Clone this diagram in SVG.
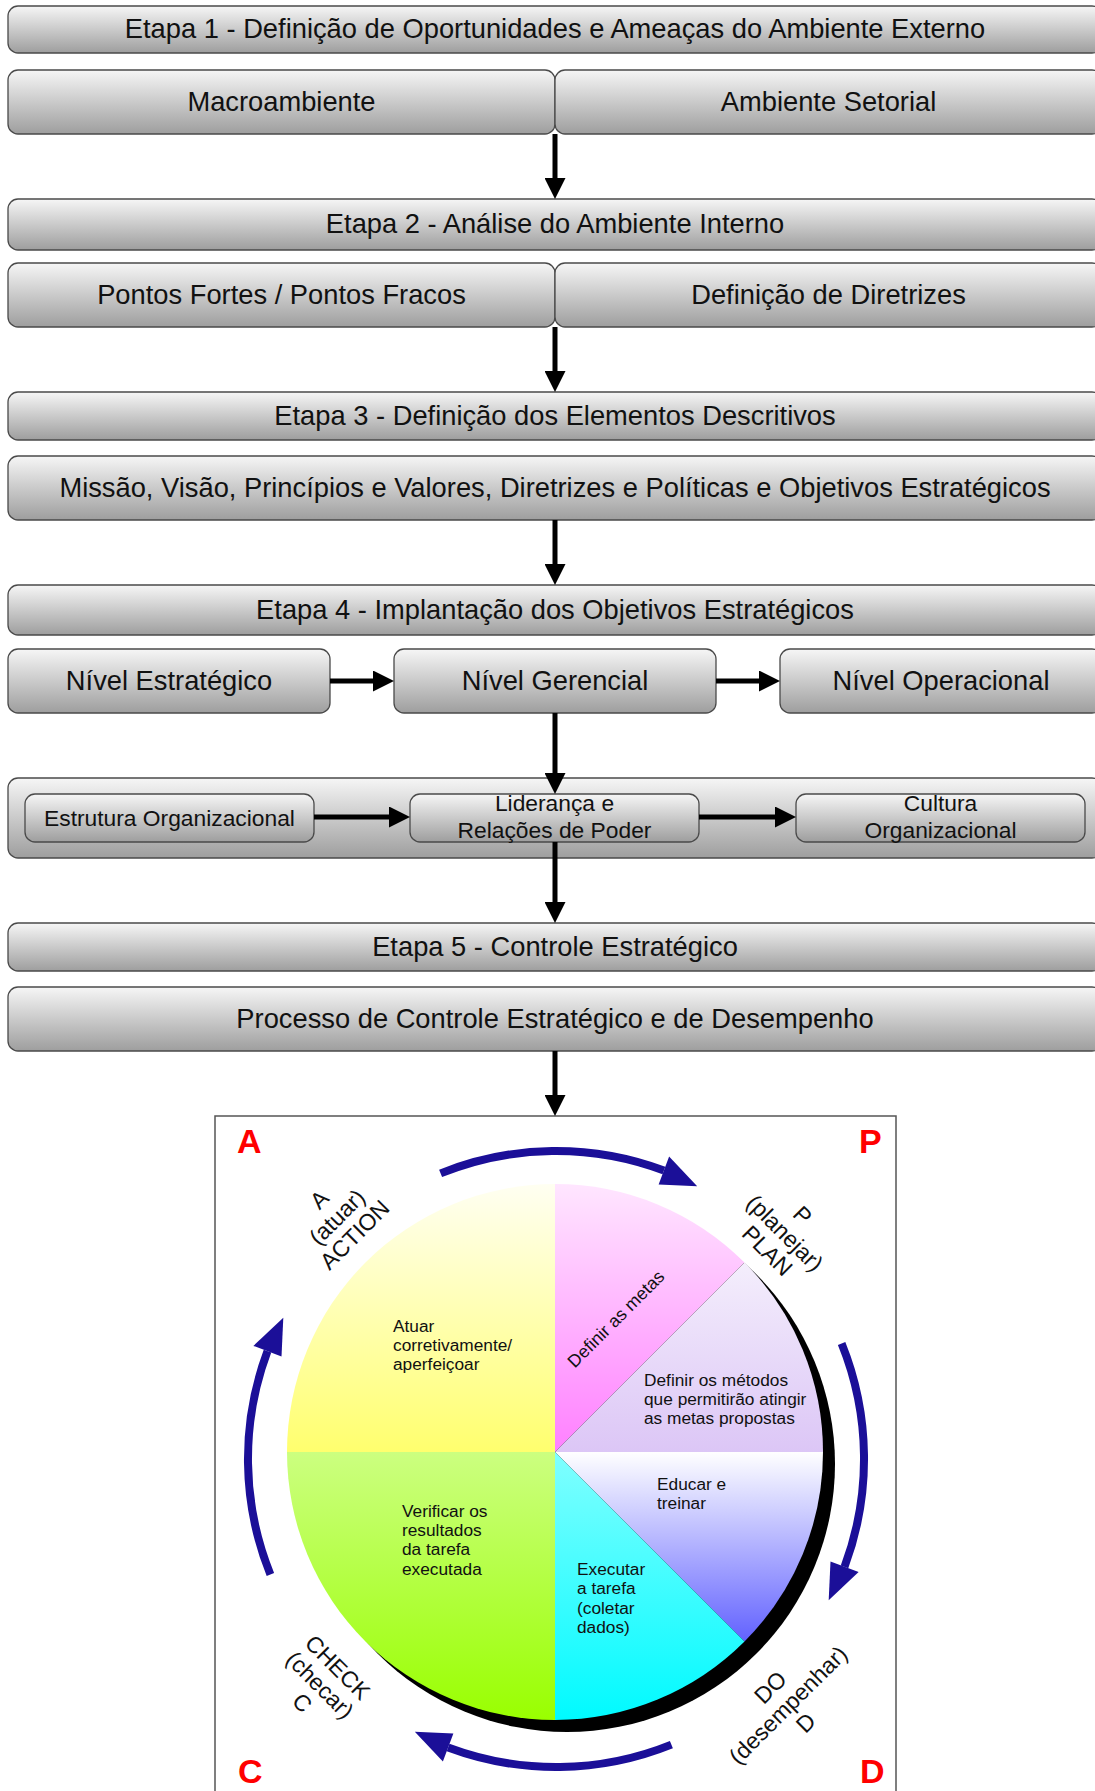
<svg xmlns="http://www.w3.org/2000/svg" width="1095" height="1791" viewBox="0 0 1095 1791">
  <style>
    .box { fill: url(#gBox); stroke: #4a4a4a; stroke-width: 1.3; }
    .t { font-family: "Liberation Sans", Arial, sans-serif; fill: #111; }
    .lg { font-size: 27.3px; text-anchor: middle; }
    .md { font-size: 22.8px; text-anchor: middle; }
    .sm { font-size: 17.3px; }
    .rot { font-size: 23px; text-anchor: middle; }
    .big { font-family: "Liberation Sans", Arial, sans-serif; font-size: 34px; font-weight: bold; fill: #ff0000; }
    .conn { stroke: #000; stroke-width: 5; fill: none; marker-end: url(#ah); }
    .cyc { stroke: #1b0f98; stroke-width: 8; fill: none; }
  </style>
  <defs>
    <linearGradient id="gBox" x1="0" y1="0" x2="0" y2="1">
      <stop offset="0" stop-color="#f6f6f6"/>
      <stop offset="1" stop-color="#9e9e9e"/>
    </linearGradient>
    <linearGradient id="gYellow" x1="0" y1="0" x2="0" y2="1">
      <stop offset="0" stop-color="#fffff2"/>
      <stop offset="1" stop-color="#ffff6e"/>
    </linearGradient>
    <linearGradient id="gPink" x1="0" y1="0" x2="0" y2="1">
      <stop offset="0" stop-color="#ffe6ff"/>
      <stop offset="1" stop-color="#ff80ff"/>
    </linearGradient>
    <linearGradient id="gLav" x1="0" y1="0" x2="0" y2="1">
      <stop offset="0" stop-color="#f4eefc"/>
      <stop offset="1" stop-color="#dcc6f6"/>
    </linearGradient>
    <linearGradient id="gBlue" x1="0" y1="0" x2="0" y2="1">
      <stop offset="0" stop-color="#ffffff"/>
      <stop offset="1" stop-color="#6262ff"/>
    </linearGradient>
    <linearGradient id="gCyan" x1="0" y1="0" x2="0" y2="1">
      <stop offset="0" stop-color="#80ffff"/>
      <stop offset="1" stop-color="#00faff"/>
    </linearGradient>
    <linearGradient id="gGreen" x1="0" y1="0" x2="0" y2="1">
      <stop offset="0" stop-color="#ccff80"/>
      <stop offset="1" stop-color="#99ff00"/>
    </linearGradient>
    <marker id="ah" viewBox="0 0 21 21" refX="9" refY="10.5" markerWidth="21" markerHeight="21" markerUnits="userSpaceOnUse" orient="auto">
      <path d="M0,0 L21,10.5 L0,21 Z" fill="#000"/>
    </marker>
    <!-- one quarter of the PDCA cycle arrow; the others are rotated copies -->
    <g id="cycArrow">
      <path class="cyc" d="M440.6,1173.4 A308,308 0 0 1 663.9,1170.5"/>
      <polygon points="658.6,1184.5 669.1,1156.4 697.2,1186.3" fill="#1b0f98"/>
    </g>
  </defs>

  <rect width="1095" height="1791" fill="#ffffff"/>

  <!-- Etapa 1 -->
  <g id="etapa1">
    <rect class="box" x="8" y="6" width="1094" height="47" rx="10"/>
    <text class="t lg" x="555" y="38">Etapa 1 - Definição de Oportunidades e Ameaças do Ambiente Externo</text>
  </g>
  <g id="macroambiente">
    <rect class="box" x="8" y="70" width="547" height="64" rx="10"/>
    <text class="t lg" x="281.5" y="110.5">Macroambiente</text>
  </g>
  <g id="ambiente-setorial">
    <rect class="box" x="555" y="70" width="547" height="64" rx="10"/>
    <text class="t lg" x="828.5" y="110.5">Ambiente Setorial</text>
  </g>

  <!-- Etapa 2 -->
  <g id="etapa2">
    <rect class="box" x="8" y="199" width="1094" height="51" rx="10"/>
    <text class="t lg" x="555" y="233">Etapa 2 - Análise do Ambiente Interno</text>
  </g>
  <g id="pontos">
    <rect class="box" x="8" y="263" width="547" height="64" rx="10"/>
    <text class="t lg" x="281.5" y="303.5">Pontos Fortes / Pontos Fracos</text>
  </g>
  <g id="diretrizes">
    <rect class="box" x="555" y="263" width="547" height="64" rx="10"/>
    <text class="t lg" x="828.5" y="303.5">Definição de Diretrizes</text>
  </g>

  <!-- Etapa 3 -->
  <g id="etapa3">
    <rect class="box" x="8" y="392" width="1094" height="48" rx="10"/>
    <text class="t lg" x="555" y="424.5">Etapa 3 - Definição dos Elementos Descritivos</text>
  </g>
  <g id="elementos">
    <rect class="box" x="8" y="456" width="1094" height="64" rx="10"/>
    <text class="t lg" x="555" y="496.5">Missão, Visão, Princípios e Valores, Diretrizes e Políticas e Objetivos Estratégicos</text>
  </g>

  <!-- Etapa 4 -->
  <g id="etapa4">
    <rect class="box" x="8" y="585" width="1094" height="50" rx="10"/>
    <text class="t lg" x="555" y="618.5">Etapa 4 - Implantação dos Objetivos Estratégicos</text>
  </g>
  <g id="nivel-estrategico">
    <rect class="box" x="8" y="649" width="322" height="64" rx="10"/>
    <text class="t lg" x="169" y="689.5">Nível Estratégico</text>
  </g>
  <g id="nivel-gerencial">
    <rect class="box" x="394" y="649" width="322" height="64" rx="10"/>
    <text class="t lg" x="555" y="689.5">Nível Gerencial</text>
  </g>
  <g id="nivel-operacional">
    <rect class="box" x="780" y="649" width="322" height="64" rx="10"/>
    <text class="t lg" x="941" y="689.5">Nível Operacional</text>
  </g>

  <g id="organizacao">
    <rect class="box" x="8" y="778" width="1094" height="80" rx="10"/>
  </g>
  <g id="estrutura">
    <rect class="box" x="25" y="794" width="289" height="48" rx="10"/>
    <text class="t md" x="169.5" y="825.5">Estrutura Organizacional</text>
  </g>
  <g id="lideranca">
    <rect class="box" x="410" y="794" width="289" height="48" rx="10"/>
    <text class="t md" x="554.5" y="811">Liderança e</text>
    <text class="t md" x="554.5" y="838">Relações de Poder</text>
  </g>
  <g id="cultura">
    <rect class="box" x="796" y="794" width="289" height="48" rx="10"/>
    <text class="t md" x="940.5" y="811">Cultura</text>
    <text class="t md" x="940.5" y="838">Organizacional</text>
  </g>

  <!-- Etapa 5 -->
  <g id="etapa5">
    <rect class="box" x="8" y="923" width="1094" height="48" rx="10"/>
    <text class="t lg" x="555" y="955.5">Etapa 5 - Controle Estratégico</text>
  </g>
  <g id="processo">
    <rect class="box" x="8" y="987" width="1094" height="64" rx="10"/>
    <text class="t lg" x="555" y="1027.5">Processo de Controle Estratégico e de Desempenho</text>
  </g>

  <!-- PDCA cycle -->
  <g id="pdca">
    <rect x="215" y="1116" width="681" height="690" fill="#ffffff" stroke="#555" stroke-width="1.5"/>
    <circle cx="567" cy="1464" r="268" fill="#000"/>
    <path d="M555,1452 L287,1452 A268,268 0 0 1 555,1184 Z" fill="url(#gYellow)"/>
    <path d="M555,1452 L555,1184 A268,268 0 0 1 744.5,1262.5 Z" fill="url(#gPink)"/>
    <path d="M555,1452 L744.5,1262.5 A268,268 0 0 1 823,1452 Z" fill="url(#gLav)"/>
    <path d="M555,1452 L823,1452 A268,268 0 0 1 744.5,1641.5 Z" fill="url(#gBlue)"/>
    <path d="M555,1452 L744.5,1641.5 A268,268 0 0 1 555,1720 Z" fill="url(#gCyan)"/>
    <path d="M555,1452 L555,1720 A268,268 0 0 1 287,1452 Z" fill="url(#gGreen)"/>

    <use href="#cycArrow"/>
    <use href="#cycArrow" transform="rotate(90 556 1459)"/>
    <use href="#cycArrow" transform="rotate(180 556 1459)"/>
    <use href="#cycArrow" transform="rotate(270 556 1459)"/>

    <text class="big" x="237" y="1153">A</text>
    <text class="big" x="859" y="1153">P</text>
    <text class="big" x="238" y="1783">C</text>
    <text class="big" x="860" y="1783">D</text>

    <g transform="translate(337 1217) rotate(-45)">
      <text class="t rot" x="0" y="-17">A</text>
      <text class="t rot" x="0" y="8">(atuar)</text>
      <text class="t rot" x="0" y="33">ACTION</text>
    </g>
    <g transform="translate(785 1233) rotate(45)">
      <text class="t rot" x="0" y="-17">P</text>
      <text class="t rot" x="0" y="8">(planejar)</text>
      <text class="t rot" x="0" y="33">PLAN</text>
    </g>
    <g transform="translate(320 1685) rotate(45)">
      <text class="t rot" x="0" y="-17">CHECK</text>
      <text class="t rot" x="0" y="8">(checar)</text>
      <text class="t rot" x="0" y="33">C</text>
    </g>
    <g transform="translate(788 1705) rotate(-45)">
      <text class="t rot" x="0" y="-17">DO</text>
      <text class="t rot" x="0" y="8">(desempenhar)</text>
      <text class="t rot" x="0" y="33">D</text>
    </g>

    <text class="t sm">
      <tspan x="393" y="1332">Atuar</tspan>
      <tspan x="393" y="1351">corretivamente/</tspan>
      <tspan x="393" y="1370">aperfeiçoar</tspan>
    </text>
    <text class="t sm" transform="translate(616 1319) rotate(-45)" x="0" y="6" text-anchor="middle" style="font-size:17.8px">Definir as metas</text>
    <text class="t sm">
      <tspan x="644" y="1386">Definir os métodos</tspan>
      <tspan x="644" y="1405">que permitirão atingir</tspan>
      <tspan x="644" y="1424">as metas propostas</tspan>
    </text>
    <text class="t sm">
      <tspan x="657" y="1490">Educar e</tspan>
      <tspan x="657" y="1509">treinar</tspan>
    </text>
    <text class="t sm">
      <tspan x="577" y="1575">Executar</tspan>
      <tspan x="577" y="1594">a tarefa</tspan>
      <tspan x="577" y="1614">(coletar</tspan>
      <tspan x="577" y="1633">dados)</tspan>
    </text>
    <text class="t sm">
      <tspan x="402" y="1517">Verificar os</tspan>
      <tspan x="402" y="1536">resultados</tspan>
      <tspan x="402" y="1555">da tarefa</tspan>
      <tspan x="402" y="1575">executada</tspan>
    </text>
  </g>

  <!-- connectors -->
  <g id="connectors">
    <line class="conn" x1="555" y1="134" x2="555" y2="187"/>
    <line class="conn" x1="555" y1="327" x2="555" y2="380"/>
    <line class="conn" x1="555" y1="520" x2="555" y2="573"/>
    <line class="conn" x1="330" y1="681" x2="382" y2="681"/>
    <line class="conn" x1="716" y1="681" x2="768" y2="681"/>
    <line class="conn" x1="555" y1="713" x2="555" y2="782"/>
    <line class="conn" x1="314" y1="817" x2="398" y2="817"/>
    <line class="conn" x1="699" y1="817" x2="784" y2="817"/>
    <line class="conn" x1="555" y1="842" x2="555" y2="911"/>
    <line class="conn" x1="555" y1="1051" x2="555" y2="1104"/>
  </g>
</svg>
